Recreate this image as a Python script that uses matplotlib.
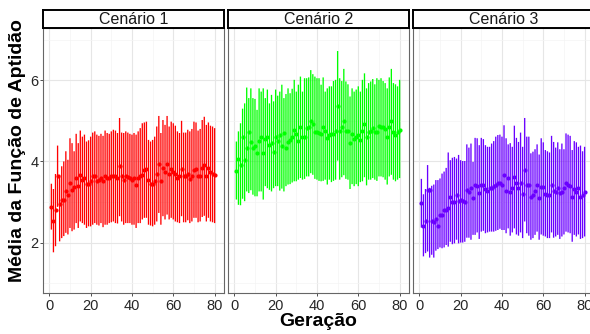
import matplotlib
matplotlib.use("Agg")
import matplotlib.pyplot as plt
import numpy as np

plt.rcParams['font.family'] = ['Liberation Sans', 'DejaVu Sans']

generations = np.arange(1, 81)
panel_titles = ["Cenário 1", "Cenário 2", "Cenário 3"]
colors = ["#FF0000", "#00FF00", "#6A00FF"]
x_ticks = [0, 20, 40, 60, 80]
y_ticks = [2, 4, 6]
x_label = "Geração"
y_label = "Média da Função de Aptidão"

mean1 = [2.88,2.52,2.81,3.63,2.96,3.06,3.06,3.26,3.18,3.48, 3.30,3.37,3.59,3.40,3.66,3.55,3.59,3.45,3.45,3.51,
         3.63,3.63,3.51,3.53,3.59,3.51,3.63,3.58,3.58,3.63, 3.65,3.63,3.58,3.88,3.65,3.55,3.65,3.61,3.59,3.55,
         3.59,3.43,3.59,3.63,3.67,3.80,3.81,3.55,3.45,3.45, 3.51,3.70,3.93,3.51,3.84,3.73,3.93,3.69,3.81,3.73,
         3.70,3.59,3.63,3.81,3.63,3.63,3.69,3.57,3.63,3.80, 3.81,3.63,3.63,3.84,3.90,3.63,3.84,3.74,3.70,3.66]
hi1 = [3.45,3.32,3.69,4.39,3.67,3.88,4.00,4.25,4.04,4.57, 4.45,4.25,4.68,4.45,4.76,4.61,4.66,4.49,4.52,4.61,
       4.71,4.74,4.66,4.63,4.68,4.63,4.76,4.70,4.68,4.74, 4.78,4.76,4.70,5.07,4.71,4.70,4.74,4.71,4.68,4.66,
       4.70,4.66,4.74,4.82,4.94,4.96,4.98,4.53,4.49,4.53, 4.61,4.86,5.12,4.70,5.02,4.90,5.12,4.86,4.98,4.94,
       4.88,4.74,4.70,5.00,4.71,4.71,4.78,4.74,4.80,4.98, 4.96,4.76,4.80,5.02,5.10,4.90,4.96,4.88,4.86,4.82]
lo1 = [2.32,1.76,1.91,2.88,2.03,2.11,2.16,2.24,2.20,2.36, 2.28,2.32,2.48,2.36,2.52,2.48,2.44,2.36,2.40,2.40,
       2.44,2.48,2.44,2.42,2.48,2.38,2.44,2.44,2.48,2.50, 2.52,2.48,2.47,2.65,2.52,2.44,2.48,2.48,2.48,2.44,
       2.44,2.36,2.48,2.48,2.57,2.61,2.61,2.44,2.42,2.40, 2.44,2.52,2.73,2.44,2.65,2.57,2.69,2.57,2.61,2.57,
       2.52,2.50,2.48,2.65,2.50,2.50,2.55,2.48,2.52,2.61, 2.61,2.50,2.52,2.63,2.66,2.52,2.61,2.52,2.50,2.48]

mean2 = [3.77,4.07,3.90,4.61,4.04,4.34,4.72,4.48,4.34,4.39, 4.20,4.51,4.59,4.20,4.56,4.59,4.41,4.45,4.23,4.59,
         4.51,4.66,4.37,4.70,4.34,4.48,4.53,4.59,4.78,4.67, 4.51,4.86,4.59,4.59,4.82,4.84,5.00,4.93,4.72,4.72,
         4.70,4.67,4.86,4.74,4.57,4.64,4.67,4.67,4.75,5.37, 4.75,4.84,5.00,4.75,4.75,4.45,4.67,4.55,4.61,4.66,
         4.53,4.75,4.93,4.59,4.72,4.75,4.82,4.72,4.72,4.88, 4.86,4.84,4.80,4.59,4.86,5.00,4.72,4.66,4.72,4.78]
hi2 = [4.49,4.74,4.94,5.30,5.43,5.82,5.56,5.80,5.56,5.54, 5.27,5.80,5.72,5.80,5.56,5.77,5.43,5.64,5.48,5.77,
       5.62,5.72,5.89,5.56,5.66,5.80,5.68,5.79,6.01,5.72, 5.89,6.09,5.72,6.05,6.05,6.07,6.25,6.15,6.09,6.05,
       6.05,5.89,6.07,5.72,5.80,5.85,5.85,5.98,6.01,6.72, 6.05,5.98,6.28,5.97,5.90,5.60,5.80,5.72,5.77,5.85,
       5.72,6.01,6.17,5.80,5.93,5.97,6.03,5.90,6.05,6.01, 6.05,5.98,5.93,5.80,6.07,6.28,5.93,5.90,5.85,6.01]
lo2 = [3.06,2.93,2.92,3.08,3.02,3.26,3.22,3.29,3.18,3.14, 3.14,3.26,3.26,3.06,3.39,3.34,3.30,3.26,3.34,3.39,
       3.39,3.28,3.33,3.26,3.39,3.43,3.44,3.48,3.51,3.51, 3.55,3.59,3.55,3.57,3.63,3.63,3.71,3.67,3.57,3.55,
       3.52,3.51,3.52,3.55,3.43,3.55,3.49,3.52,3.55,4.02, 3.55,3.61,3.66,3.57,3.55,3.32,3.44,3.39,3.44,3.39,
       3.49,3.51,3.61,3.41,3.55,3.55,3.59,3.55,3.52,3.63, 3.63,3.61,3.55,3.43,3.63,3.67,3.55,3.51,3.55,3.59]

mean3 = [2.97,2.41,2.53,3.30,3.29,2.52,2.50,2.58,2.42,2.69, 2.69,2.80,2.81,2.85,3.12,3.00,3.00,3.16,3.03,3.06,
         3.02,3.00,3.29,3.25,3.35,3.09,3.43,3.40,3.21,3.43, 3.43,3.32,3.27,3.34,3.34,3.40,3.43,3.46,3.48,3.42,
         3.66,3.27,3.60,3.24,3.35,3.62,3.48,3.35,3.48,3.20, 3.79,3.42,3.43,3.13,3.17,3.27,3.43,3.09,3.38,3.38,
         3.19,3.16,3.16,3.43,3.27,3.25,3.34,3.21,3.25,3.34, 3.48,3.43,3.40,3.13,3.32,3.24,3.34,3.13,3.17,3.24]
hi3 = [3.57,3.19,3.32,3.91,3.35,3.40,3.43,3.54,3.54,3.58, 3.70,3.75,3.84,4.22,4.03,4.09,4.11,4.07,4.16,4.03,
       4.01,4.01,4.42,4.34,4.44,3.99,4.58,4.57,4.40,4.58, 4.55,4.40,4.36,4.36,4.44,4.50,4.61,4.65,4.66,4.61,
       4.89,4.57,4.42,4.45,4.36,4.88,4.58,4.48,4.71,4.36, 5.07,4.61,4.61,4.20,4.24,4.30,4.42,4.17,4.57,4.47,
       4.28,4.25,4.22,4.63,4.48,4.34,4.47,4.30,4.44,4.30, 4.69,4.66,4.63,4.28,4.50,4.47,4.36,4.39,4.25,4.36]
lo3 = [2.37,1.66,1.74,1.78,1.63,1.70,1.63,1.80,1.84,1.88, 1.86,1.88,1.94,1.90,2.02,1.96,1.98,2.07,1.98,2.00,
       2.00,2.02,2.12,2.12,2.07,2.19,2.19,2.25,2.09,2.27, 2.29,2.23,2.25,2.27,2.27,2.27,2.29,2.31,2.34,2.31,
       2.31,2.23,2.35,2.17,2.25,2.35,2.20,2.17,2.25,2.11, 2.52,2.23,2.17,2.07,2.11,2.19,2.27,2.07,2.20,2.17,
       2.15,2.11,2.11,2.25,2.12,2.15,2.19,2.09,2.15,2.20, 2.27,2.25,2.23,2.02,2.19,2.15,2.20,2.09,2.11,2.15]

means = [mean1, mean2, mean3]
highs = [hi1, hi2, hi3]
lows = [lo1, lo2, lo3]

W, H = 590, 334
fig = plt.figure(figsize=(W / 100, H / 100), dpi=100)


def px_axes(l, t, w, h):
    return fig.add_axes([l / W, 1 - (t + h) / H, w / W, h / H])


lefts = [42.7, 227.7, 412.7]
pw, ptop, ph = 181.0, 28.3, 265.0
stop, sh = 9.5, 18.0

for i in range(3):
    ax = px_axes(lefts[i], ptop, pw, ph)
    m = np.array(means[i])
    hi = np.array(highs[i])
    lo = np.array(lows[i])
    eb = ax.errorbar(generations, m, yerr=[m - lo, hi - m], fmt='o', color=colors[i],
                     ecolor=colors[i], mfc=colors[i], mec=colors[i],
                     ms=3.0, mew=0, elinewidth=0.95, capsize=1.0, capthick=0.6, zorder=3)
    for coll in eb[2]:
        coll.set_snap(False)
        coll.set_antialiased(True)
    for cl in eb[1]:
        cl.set_color(colors[i])
    ax.set_xlim(-3.2, 84.4)
    ax.set_ylim(0.75, 7.28)
    ax.set_xticks(x_ticks)
    ax.set_xticks([10, 30, 50, 70], minor=True)
    ax.set_yticks(y_ticks)
    ax.set_yticks([1, 3, 5, 7], minor=True)
    ax.grid(which='major', color='#E6E6E6', lw=0.8)
    ax.grid(which='minor', color='#F4F4F4', lw=0.5)
    ax.set_axisbelow(True)
    for s in ax.spines.values():
        s.set_color('#666666')
        s.set_linewidth(0.8)
    ax.tick_params(which='minor', length=0)
    ax.tick_params(which='major', length=2.3, width=0.6, color='#333333',
                   labelsize=10.5, labelcolor='#262626', pad=1.5)
    if i > 0:
        ax.tick_params(axis='y', left=False, labelleft=False)
    else:
        ax.tick_params(axis='y', pad=0.8)

    sax = px_axes(lefts[i], stop, pw, sh)
    sax.set_xticks([])
    sax.set_yticks([])
    sax.set_facecolor('white')
    for s in sax.spines.values():
        s.set_color('black')
        s.set_linewidth(1.4)
    sax.text(0.5, 0.45, panel_titles[i], ha='center', va='center',
             fontsize=11.5, color='#1a1a1a', transform=sax.transAxes)

fig.text(318 / W, 1 - 322 / H, x_label, ha='center', va='center',
         fontsize=14, fontweight='bold')
fig.text(18 / W, 1 - 151 / H, y_label, ha='center', va='center',
         rotation=90, fontsize=14, fontweight='bold')

fig.savefig("out.png", dpi=100)
